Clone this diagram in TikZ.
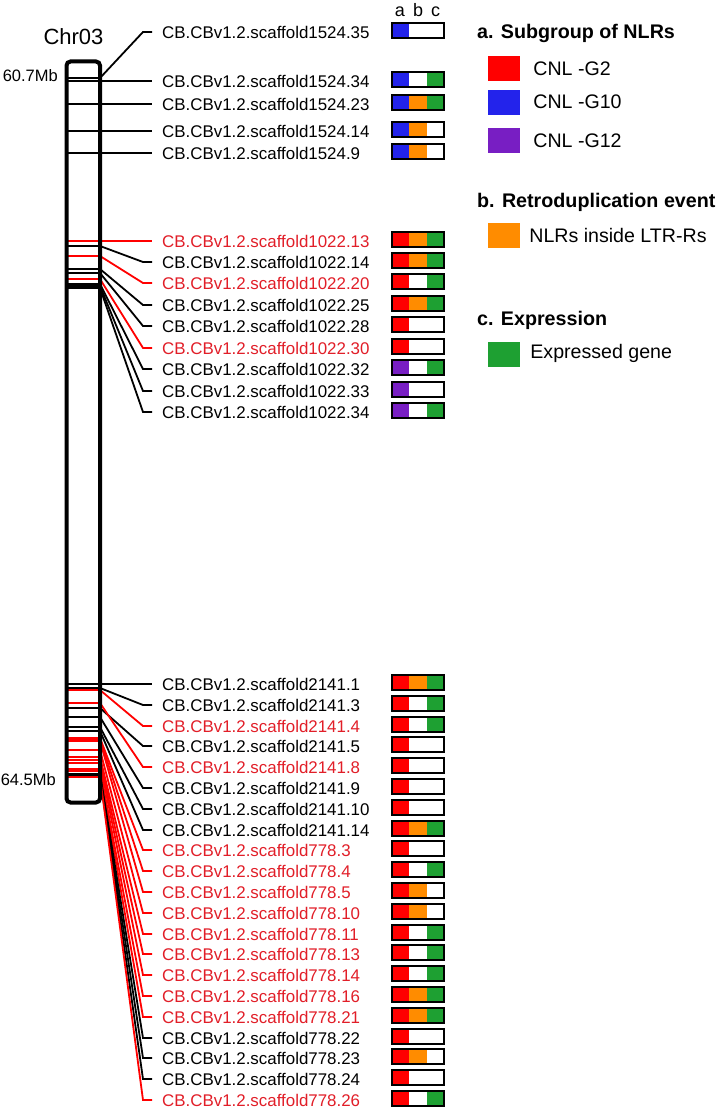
\documentclass[tikz,border=0pt]{standalone}
\usepackage{fontspec}
\setmainfont{Liberation Sans}
\usetikzlibrary{positioning}
\definecolor{cnlred}{RGB}{255,0,0}
\definecolor{cnlblue}{RGB}{35,35,235}
\definecolor{cnlpurple}{RGB}{120,30,195}
\definecolor{ltrorange}{RGB}{255,140,0}
\definecolor{expgreen}{RGB}{30,160,50}
\colorlet{blacktxt}{black}
\definecolor{redtxt}{RGB}{225,30,40}
\tikzstyle{glabel} = [anchor=west, inner xsep=10pt, inner ysep=0pt, font=\fontsize{16.9}{18}\selectfont]
\tikzstyle{seg} = [rectangle, minimum width=17.33pt, minimum height=15.5pt, inner sep=0pt, outer sep=0pt]
\tikzstyle{segbox} = [draw, line width=1.8pt]
\tikzstyle{link} = [line width=1.8pt]
\tikzstyle{chrom} = [draw, line width=4pt, rounded corners=4pt, inner sep=0pt]
\tikzstyle{swatch} = [rectangle, minimum width=32pt, minimum height=25pt, inner sep=0pt]
\tikzstyle{ltext} = [inner sep=0pt, font=\fontsize{19.6}{22}\selectfont]
\tikzstyle{ltitle} = [anchor=base west, inner sep=0pt, font=\fontsize{19.7}{22}\selectfont\bfseries]
\tikzstyle{colhead} = [anchor=base, inner sep=0pt, font=\fontsize{18}{20}\selectfont]
\newcommand{\gene}[8]{%
  \coordinate (#1l) at (66,#4);
  \coordinate (#1r) at (100,#4);
  \coordinate (#1k) at (143,#3);
  \node [glabel, text=#5txt] (#1) at (152,#3) {CB.CBv1.2.scaffold#2};
  \draw [link, draw=#5] (#1l) -- (#1r) -- (#1k) -- (#1.west);
  \node [seg, fill=#6] (#1a) at (400.67,{#3-1.5}) {};
  \node [seg, fill=#7, right=0pt of #1a] (#1b) {};
  \node [seg, fill=#8, right=0pt of #1b] (#1c) {};
  \draw [segbox] (#1a.north west) rectangle (#1c.south east);
}

\begin{document}
\begin{tikzpicture}[x=1pt, y=-1pt]
    \useasboundingbox (0,0) rectangle (715,1108);
    \gene{t1}{1524.35}{32}{78}{black}{cnlblue}{white}{white}
    \gene{t2}{1524.34}{81}{81}{black}{cnlblue}{white}{expgreen}
    \gene{t3}{1524.23}{104}{104}{black}{cnlblue}{ltrorange}{expgreen}
    \gene{t4}{1524.14}{131}{131}{black}{cnlblue}{ltrorange}{white}
    \gene{t5}{1524.9}{153}{153}{black}{cnlblue}{ltrorange}{white}
    \gene{m1}{1022.13}{241}{241}{red}{cnlred}{ltrorange}{expgreen}
    \gene{m2}{1022.14}{262}{246}{black}{cnlred}{ltrorange}{expgreen}
    \gene{m3}{1022.20}{283}{256}{red}{cnlred}{white}{expgreen}
    \gene{m4}{1022.25}{305}{269}{black}{cnlred}{ltrorange}{expgreen}
    \gene{m5}{1022.28}{326}{273}{black}{cnlred}{white}{white}
    \gene{m6}{1022.30}{348}{279}{red}{cnlred}{white}{white}
    \gene{m7}{1022.32}{369}{284}{black}{cnlpurple}{white}{expgreen}
    \gene{m8}{1022.33}{391}{286}{black}{cnlpurple}{white}{white}
    \gene{m9}{1022.34}{412}{288}{black}{cnlpurple}{white}{expgreen}
    \gene{b1}{2141.1}{684}{684}{black}{cnlred}{ltrorange}{expgreen}
    \gene{b2}{2141.3}{705}{688}{black}{cnlred}{white}{expgreen}
    \gene{b3}{2141.4}{726}{690}{red}{cnlred}{white}{expgreen}
    \gene{b4}{2141.5}{746}{708}{black}{cnlred}{white}{white}
    \gene{b5}{2141.8}{767}{703}{red}{cnlred}{white}{white}
    \gene{b6}{2141.9}{788}{717}{black}{cnlred}{white}{white}
    \gene{b7}{2141.10}{809}{727}{black}{cnlred}{white}{white}
    \gene{b8}{2141.14}{830}{731}{black}{cnlred}{ltrorange}{expgreen}
    \gene{b9}{778.3}{850}{738}{red}{cnlred}{white}{white}
    \gene{b10}{778.4}{871}{739}{red}{cnlred}{white}{expgreen}
    \gene{b11}{778.5}{892}{741}{red}{cnlred}{ltrorange}{white}
    \gene{b12}{778.10}{913}{750}{red}{cnlred}{ltrorange}{white}
    \gene{b13}{778.11}{934}{757}{red}{cnlred}{white}{expgreen}
    \gene{b14}{778.13}{954}{760}{red}{cnlred}{white}{expgreen}
    \gene{b15}{778.14}{975}{763}{red}{cnlred}{white}{expgreen}
    \gene{b16}{778.16}{996}{769}{red}{cnlred}{ltrorange}{expgreen}
    \gene{b17}{778.21}{1017}{771}{red}{cnlred}{ltrorange}{expgreen}
    \gene{b18}{778.22}{1038}{774}{black}{cnlred}{white}{white}
    \gene{b19}{778.23}{1058}{775}{black}{cnlred}{ltrorange}{white}
    \gene{b20}{778.24}{1079}{776}{black}{cnlred}{white}{white}
    \gene{b21}{778.26}{1100}{777}{red}{cnlred}{white}{expgreen}
    \node [chrom, minimum width=33.5pt, minimum height=741pt] (chr) at (83.25,432) {};
    \node [font=\fontsize{22}{24}\selectfont, inner sep=0pt] (chrname) at (73.5,37) {Chr03};
    \node [anchor=east, inner sep=0pt, font=\fontsize{16.5}{18}\selectfont] (mbtop) at (58,76) {60.7Mb};
    \node [anchor=east, inner sep=0pt, font=\fontsize{16.5}{18}\selectfont] (mbbot) at (56,780) {64.5Mb};
    \node [colhead] (hda) at (400,17) {a};
    \node [colhead] (hdb) at (418,17) {b};
    \node [colhead] (hdc) at (435.5,17) {c};
    \node [ltitle] (tita) at (477,39) {a. Subgroup of NLRs};
    \node [swatch, fill=cnlred] (swr) at (504,68.5) {};
    \node [ltext, right=13pt of swr] (txr) {CNL -G2};
    \node [swatch, fill=cnlblue] (swb) at (504,102) {};
    \node [ltext, right=13pt of swb] (txb) {CNL -G10};
    \node [swatch, fill=cnlpurple] (swp) at (504,140.5) {};
    \node [ltext, right=13pt of swp] (txp) {CNL -G12};
    \node [ltitle] (titb) at (477,207) {b. Retroduplication event};
    \node [swatch, fill=ltrorange] (swo) at (504,235.5) {};
    \node [ltext, right=9pt of swo] (txo) {NLRs inside LTR-Rs};
    \node [ltitle] (titc) at (477,325) {c. Expression};
    \node [swatch, fill=expgreen] (swg) at (504,354.5) {};
    \node [ltext, right=10pt of swg, yshift=1pt] (txg) {Expressed gene};
\end{tikzpicture}
\end{document}
